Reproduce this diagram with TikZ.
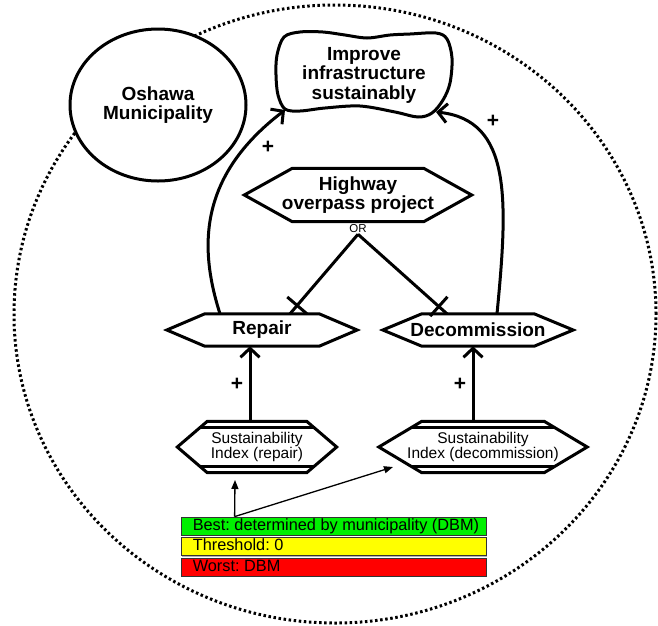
\documentclass[tikz,border=0pt]{standalone}
\usepackage{fontspec}
\setmainfont{Liberation Sans}
\usetikzlibrary{shapes.geometric,arrows.meta,calc,shadows}
\frenchspacing
\newcommand{\hexdraw}[2]{%
  \draw[thk] (#1.west) -- ([xshift=#2]#1.north west) -- ([xshift=-#2]#1.north east) -- (#1.east) -- ([xshift=-#2]#1.south east) -- ([xshift=#2]#1.south west) -- cycle;}
\newcommand{\idxlines}[3]{%
  \path ([xshift=#2]#1.north west) coordinate (#1-a) ([xshift=-#2]#1.north east) coordinate (#1-b)
        ([xshift=#2]#1.south west) coordinate (#1-c) ([xshift=-#2]#1.south east) coordinate (#1-d);
  \draw[thk] ($(#1-a)!#3!(#1.west)$) -- ($(#1-b)!#3!(#1.east)$);
  \draw[thk] ($(#1-c)!#3!(#1.west)$) -- ($(#1-d)!#3!(#1.east)$);}
\begin{document}
\begin{tikzpicture}[x=1pt,y=-1pt,
  thk/.style={line width=3pt},
  thinarr/.style={line width=1.3pt,-{Triangle[length=9pt,width=7pt]}},
  arr/.style={line width=3pt,-{Straight Barb[length=9pt,width=19pt]}},
  boldtext/.style={font=\fontsize{19}{19.5}\selectfont\bfseries},
  regtext/.style={font=\fontsize{15.5}{15}\selectfont},
  hexnode/.style={inner sep=0pt,align=center},
  plus/.style={font=\fontsize{21}{21}\selectfont\bfseries,inner sep=0pt},
  bar/.style={draw=black!80,line width=0.8pt,minimum width=305pt,minimum height=18pt,inner sep=0pt,
    drop shadow={shadow xshift=1.3pt,shadow yshift=-1.3pt,fill=black!30,opacity=1}},
  bartext/.style={anchor=west,font=\fontsize{16.3}{16}\selectfont,inner sep=0pt,text height=11.5pt,text depth=3.5pt}
]
\useasboundingbox (0,0) rectangle (658,625);
\fill[white] (0,0) rectangle (658,625);

% boundary
\draw[line width=3pt,dash pattern=on 2.5pt off 2.6pt] (335,314) ellipse [x radius=321pt,y radius=309pt];

% actor
\node[ellipse,draw,thk,fill=white,minimum width=176pt,minimum height=152pt,inner sep=0pt,boldtext,align=center] (osh) at (158,105) {Oshawa\\Municipality};

% softgoal
\draw[thk,fill=white] plot[smooth cycle,tension=0.55] coordinates {
 (277,55) (284,37) (300,32) (323,32) (345,35) (367,38) (390,35) (410,34) (436,33) (447,39)
 (452,58) (450,83) (443,100) (432,113) (418,117) (395,112) (360,106) (325,108) (300,111)
 (285,109) (278,95) (276,75)};
\node[boldtext,align=center,inner sep=0pt] (goal) at (364,75) {Improve\\infrastructure\\sustainably};
\coordinate (gsw) at (285,110);
\coordinate (gse) at (436,112);

% tasks
\node[hexnode,boldtext,minimum width=227pt,minimum height=53pt] (hwy) at (358,195) {Highway\\overpass project};
\hexdraw{hwy}{48pt}
\node[font=\fontsize{11.5}{12}\selectfont,inner sep=1pt] (or) at (358,229) {OR};

\node[hexnode,boldtext,minimum width=190pt,minimum height=32pt] (rep) at (262,330) {Repair};
\hexdraw{rep}{38pt}
\node[hexnode,boldtext,minimum width=190pt,minimum height=32pt] (dec) at (478,330) {Decommission};
\hexdraw{dec}{39pt}

% indicators
\node[hexnode,regtext,minimum width=159pt,minimum height=51pt] (idxr) at (257,447) {Sustainability\\Index (repair)};
\hexdraw{idxr}{30pt}
\idxlines{idxr}{30pt}{0.25}
\node[hexnode,regtext,minimum width=208pt,minimum height=51pt] (idxd) at (483,447) {Sustainability\\Index (decommission)};
\hexdraw{idxd}{43pt}
\idxlines{idxd}{43pt}{0.25}

% OR decomposition
\coordinate (rt) at ([xshift=28pt]rep.north);
\coordinate (dt) at ([xshift=-31pt]dec.north);
\draw[thk] (or.south) -- (rt);
\draw[thk] (or.south) -- (dt);
\draw[thk] ($(rt)!11pt!(or.south)!13pt!90:(or.south)$) -- ($(rt)!11pt!(or.south)!13pt!-90:(or.south)$);
\draw[thk] ($(dt)!11pt!(or.south)!13pt!90:(or.south)$) -- ($(dt)!11pt!(or.south)!13pt!-90:(or.south)$);

% contributions
\draw[arr] ([xshift=-42pt]rep.north) .. controls (198,245) and (200,175) .. (gsw);
\draw[arr] ([xshift=19pt]dec.north) .. controls (508,200) and (512,120) .. (gse);
\node[plus] (p1) at (268,147) {+};
\node[plus] (p2) at (493,121) {+};
\draw[arr] ([xshift=-7pt]idxr.north) -- ([xshift=-12pt]rep.south);
\draw[arr] ([xshift=-10pt]idxd.north) -- ([xshift=-5pt]dec.south);
\node[plus] (p3) at (237,384) {+};
\node[plus] (p4) at (460,384) {+};

% legend
\node[bar,fill={rgb,255:red,0;green,240;blue,0}] (best) at (333.5,526) {};
\node[bartext] (bestt) at ([xshift=12pt]best.west) {Best: determined by municipality (DBM)};
\node[bar,fill={rgb,255:red,255;green,255;blue,0}] (thr) at (333.5,546.5) {};
\node[bartext] (thrt) at ([xshift=12pt]thr.west) {Threshold: 0};
\node[bar,fill={rgb,255:red,255;green,0;blue,0}] (worst) at (333.5,567) {};
\node[bartext] (worstt) at ([xshift=12pt]worst.west) {Worst: DBM};

\coordinate (tipr) at (235,480);
\coordinate (tipd) at (393,467);
\draw[thinarr] ([xshift=54pt]best.north west) -- (tipr);
\draw[thinarr] ([xshift=54pt]best.north west) -- (tipd);
\end{tikzpicture}
\end{document}
